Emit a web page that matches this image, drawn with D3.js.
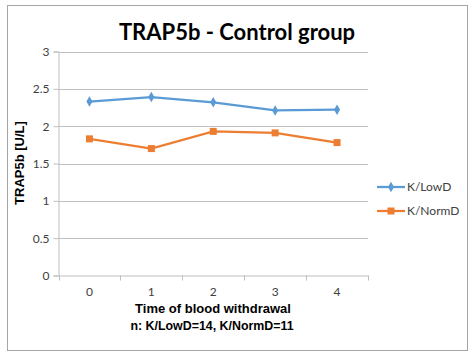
<!DOCTYPE html>
<html><head><meta charset="utf-8">
<script src="https://cdn.jsdelivr.net/npm/d3@7"></script>
<style>body{margin:0;background:#fff}</style>
</head><body>
<svg id="c" width="475" height="353"></svg>
<script>
const categories = ["0","1","2","3","4"];
const lowD = [2.33, 2.39, 2.32, 2.21, 2.22];
const normD = [1.83, 1.70, 1.93, 1.91, 1.78];
const yTicks = [0, 0.5, 1, 1.5, 2, 2.5, 3];
const seriesNames = ["K/LowD", "K/NormD"];
const colors = ["#5b9bd5", "#ed7d31"];

const svg = d3.select("#c");
svg.append("rect").attr("x",7.5).attr("y",5.5).attr("width",460).attr("height",345)
  .attr("fill","#fff").attr("stroke","#a6a6a6").attr("stroke-width",1);

const L = 58.5, R = 368, T = 51.5, B = 275.5;
const x = d3.scaleBand().domain(categories).range([L, R]);
const y = d3.scaleLinear().domain([0, 3]).range([B, T]);

// gridlines
svg.append("g").selectAll("line").data(yTicks.filter(d=>d>0)).join("line")
  .attr("x1", L).attr("x2", R).attr("y1", d=>Math.round(y(d))+0.5).attr("y2", d=>Math.round(y(d))+0.5)
  .attr("stroke","#bfbfbf").attr("stroke-width",1);

// y axis
const yAxis = d3.axisLeft(y).tickValues(yTicks).tickSize(5).tickPadding(4).tickFormat(d=>String(d));
const gy = svg.append("g").attr("transform",`translate(${L},0)`).call(yAxis);
gy.select(".domain").attr("stroke","#bfbfbf");
gy.selectAll(".tick line").attr("stroke","#bfbfbf");
gy.selectAll("text").attr("font-family","Lato, 'Open Sans', sans-serif").attr("font-size",12).attr("fill","#404040");

// x axis
const xAxis = d3.axisBottom(x).tickSize(0).tickPadding(12);
const gx = svg.append("g").attr("transform",`translate(0,${B})`).call(xAxis);
gx.select(".domain").attr("stroke","#bfbfbf");
gx.selectAll("text").attr("font-family","Lato, 'Open Sans', sans-serif").attr("font-size",12).attr("fill","#404040");
// boundary tick marks
const bounds = categories.map(c=>x(c)).concat([R]);
svg.append("g").selectAll("line").data(bounds).join("line")
  .attr("x1",d=>Math.round(d)+0.5).attr("x2",d=>Math.round(d)+0.5).attr("y1",B).attr("y2",B+5)
  .attr("stroke","#bfbfbf");

// series
const cx = c => x(c) + x.bandwidth()/2;
[lowD, normD].forEach((vals, i) => {
  const line = d3.line().x((d,j)=>cx(categories[j])).y(d=>y(d));
  svg.append("path").datum(vals).attr("d", line).attr("fill","none")
    .attr("stroke", colors[i]).attr("stroke-width", 2.25);
  const g = svg.append("g");
  if (i === 0) {
    g.selectAll("path").data(vals).join("path")
      .attr("d", d3.symbol(d3.symbolDiamond, 32))
      .attr("transform",(d,j)=>`translate(${cx(categories[j])},${y(d)})`)
      .attr("fill", colors[i]);
  } else {
    g.selectAll("rect").data(vals).join("rect")
      .attr("x",(d,j)=>cx(categories[j])-3.5).attr("y",d=>y(d)-3.5)
      .attr("width",7).attr("height",7).attr("fill",colors[i]);
  }
});

// title
svg.append("text").attr("x",237).attr("y",40).attr("text-anchor","middle")
  .attr("font-family","Lato, 'Open Sans', sans-serif").attr("font-weight","bold").attr("font-size",22)
  .attr("fill","#000").text("TRAP5b - Control group");

// y title
svg.append("text").attr("transform","translate(24,163) rotate(-90)").attr("text-anchor","middle")
  .attr("font-family","'Liberation Sans', Arial, sans-serif").attr("font-weight","bold").attr("font-size",13)
  .attr("fill","#000").text("TRAP5b [U/L]");

// x title
svg.append("text").attr("x",213).attr("y",313).attr("text-anchor","middle")
  .attr("font-family","'Liberation Sans', Arial, sans-serif").attr("font-weight","bold").attr("font-size",13)
  .attr("fill","#000").text("Time of blood withdrawal");
svg.append("text").attr("x",212).attr("y",330).attr("text-anchor","middle")
  .attr("font-family","'Liberation Sans', Arial, sans-serif").attr("font-weight","bold").attr("font-size",12.4)
  .attr("fill","#000").text("n: K/LowD=14, K/NormD=11");

// legend
const leg = svg.append("g");
seriesNames.forEach((n,i)=>{
  const ly = 187 + i*24;
  leg.append("line").attr("x1",377).attr("x2",405).attr("y1",ly).attr("y2",ly)
    .attr("stroke",colors[i]).attr("stroke-width",2.25);
  if (i===0) leg.append("path").attr("d",d3.symbol(d3.symbolDiamond,32)).attr("transform",`translate(391,${ly})`).attr("fill",colors[i]);
  else leg.append("rect").attr("x",387.5).attr("y",ly-3.5).attr("width",7).attr("height",7).attr("fill",colors[i]);
  leg.append("text").attr("x",407).attr("y",ly+4).attr("font-family","Lato, 'Open Sans', sans-serif")
    .attr("font-size",12).attr("fill","#404040").text(n);
});
</script>
</body></html>
